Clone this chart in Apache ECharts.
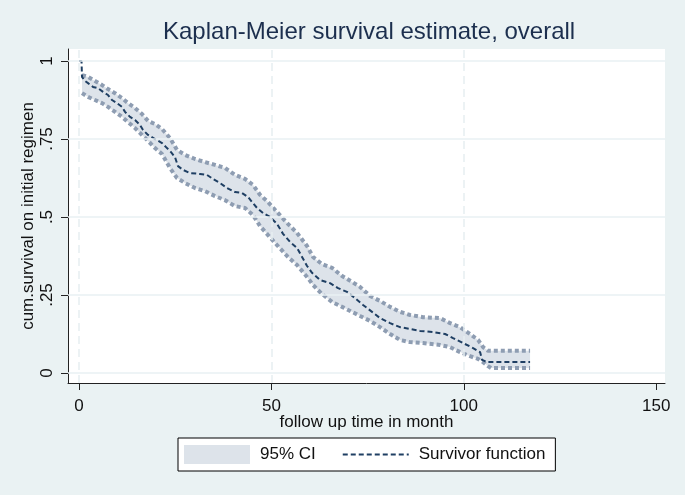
<!DOCTYPE html>
<html>
<head>
<meta charset="utf-8">
<script src="https://cdn.jsdelivr.net/npm/echarts@6/dist/echarts.min.js"></script>
<style>html,body{margin:0;padding:0;background:#eaf2f3;}#c{width:685px;height:495px;}</style>
</head>
<body>
<div id="c"></div>
<script>
// Kaplan-Meier survivor function (time in months, cumulative survival)
const times = [0, 0.65, 0.78, 1.56, 2.34, 3.64, 4.94, 6.24, 7.54, 8.58, 9.88, 11.18, 11.96, 13.26, 14.56, 15.86, 16.64, 17.94, 19.76, 21.58, 22.62, 23.91, 24.95, 25.73, 27.03, 28.85, 31.45, 33.27, 34.83, 36.65, 38.47, 40.55, 42.37, 43.93, 44.97, 46.27, 47.83, 49.65, 51.47, 53.03, 54.85, 56.67, 57.97, 59.27, 60.57, 62.65, 65.25, 67.33, 69.66, 71.74, 73.82, 76.16, 78.24, 80.84, 83.44, 86.04, 88.64, 92.02, 95.14, 97.22, 99.82, 102.42, 104.24, 104.76, 106.06, 117.23];
const survival = [1.000, 1.000, 0.949, 0.936, 0.929, 0.917, 0.913, 0.901, 0.891, 0.875, 0.865, 0.853, 0.837, 0.821, 0.811, 0.795, 0.779, 0.763, 0.750, 0.737, 0.724, 0.708, 0.692, 0.663, 0.651, 0.641, 0.638, 0.635, 0.622, 0.609, 0.593, 0.580, 0.577, 0.564, 0.548, 0.529, 0.513, 0.500, 0.478, 0.446, 0.420, 0.401, 0.372, 0.343, 0.321, 0.298, 0.288, 0.272, 0.260, 0.240, 0.218, 0.196, 0.176, 0.160, 0.147, 0.141, 0.135, 0.131, 0.125, 0.112, 0.096, 0.080, 0.067, 0.042, 0.035, 0.035];
// 95% confidence interval
const ciTimes = [0.78, 2.34, 4.16, 5.98, 7.54, 9.36, 11.18, 12.74, 14.56, 16.38, 17.94, 19.76, 21.58, 23.65, 25.47, 27.55, 30.15, 32.75, 35.35, 37.95, 40.55, 43.15, 45.23, 47.05, 49.13, 51.47, 54.07, 56.67, 59.27, 60.83, 63.17, 65.77, 68.37, 70.96, 73.04, 75.64, 78.24, 80.84, 83.44, 86.04, 89.42, 93.84, 96.44, 99.04, 101.64, 103.72, 105.02, 106.32, 107.1, 117.23];
const ciUpper = [0.955, 0.949, 0.936, 0.923, 0.910, 0.897, 0.881, 0.865, 0.849, 0.830, 0.808, 0.798, 0.782, 0.753, 0.715, 0.699, 0.686, 0.676, 0.667, 0.657, 0.635, 0.622, 0.603, 0.571, 0.548, 0.516, 0.481, 0.449, 0.407, 0.372, 0.349, 0.337, 0.311, 0.292, 0.276, 0.247, 0.231, 0.212, 0.196, 0.186, 0.179, 0.176, 0.160, 0.147, 0.125, 0.106, 0.083, 0.071, 0.071, 0.071];
const ciLower = [0.897, 0.885, 0.875, 0.865, 0.853, 0.837, 0.821, 0.804, 0.785, 0.763, 0.744, 0.721, 0.702, 0.657, 0.625, 0.609, 0.593, 0.583, 0.567, 0.554, 0.535, 0.529, 0.506, 0.471, 0.442, 0.410, 0.375, 0.346, 0.308, 0.282, 0.253, 0.228, 0.212, 0.196, 0.183, 0.167, 0.147, 0.125, 0.106, 0.099, 0.096, 0.090, 0.083, 0.067, 0.054, 0.045, 0.035, 0.022, 0.016, 0.016];
// Axis ticks
const xTicks = [0, 50, 100, 150];
const xGridLines = [0, 50, 100];
const yTicks = [0, 0.25, 0.5, 0.75, 1];
const yTickLabels = ['0', '.25', '.5', '.75', '1'];

const FONT = 'Liberation Sans';
const BAND = '#dde3ea';
const CI_LINE = '#8e9db2';
const SURV = '#1f3f63';

const pairs = (xs, ys) => xs.map((x, i) => [x, ys[i]]);

function renderBand(params, api) {
  if (params.dataIndexInside !== 0) return null;
  const pts = [];
  for (let i = 0; i < ciTimes.length; i++) pts.push(api.coord([ciTimes[i], ciUpper[i]]));
  for (let i = ciTimes.length - 1; i >= 0; i--) pts.push(api.coord([ciTimes[i], ciLower[i]]));
  return {type: 'polygon', shape: {points: pts}, style: {fill: BAND, stroke: null}, silent: true};
}

const chart = echarts.init(document.getElementById('c'), null, {renderer: 'canvas'});
chart.setOption({
  animation: false,
  backgroundColor: '#eaf2f3',
  title: {
    text: 'Kaplan-Meier survival estimate, overall',
    left: 163, top: 20, padding: 0,
    textStyle: {fontFamily: FONT, fontSize: 24, fontWeight: 'normal', color: '#1c2f4e'}
  },
  grid: {left: 68, top: 49, right: 20, bottom: 112, show: true, backgroundColor: '#ffffff', borderWidth: 0},
  legend: {
    left: 178, top: 438,
    padding: [7, 10, 7, 6],
    itemWidth: 66, itemHeight: 19, itemGap: 26,
    backgroundColor: '#ffffff', borderColor: '#000000', borderWidth: 1, borderRadius: 0,
    textStyle: {fontFamily: FONT, fontSize: 17, color: '#111111', padding: [0, 0, 0, 5]},
    selectedMode: false,
    data: [
      {name: '95% CI', icon: 'rect', itemStyle: {color: BAND, borderWidth: 0}},
      {name: 'Survivor function', itemStyle: {opacity: 0}, lineStyle: {color: SURV, width: 2, type: [5, 3]}}
    ]
  },
  xAxis: {
    type: 'value', min: -2.86, max: 152.3,
    name: 'follow up time in month', nameLocation: 'middle', nameGap: 31, nameMoveOverlap: false,
    nameTextStyle: {fontFamily: FONT, fontSize: 17, color: '#111111'},
    axisLine: {show: true, onZero: false, lineStyle: {color: '#222222', width: 1}},
    axisTick: {show: true, length: 7, customValues: xTicks, lineStyle: {color: '#222222'}},
    axisLabel: {customValues: xTicks, margin: 15, fontFamily: FONT, fontSize: 17, color: '#111111'},
    splitLine: {show: false}
  },
  yAxis: {
    type: 'value', min: -0.032, max: 1.0385,
    name: 'cum.survival on initial regimen', nameLocation: 'middle', nameGap: 31, nameMoveOverlap: false,
    nameTextStyle: {fontFamily: FONT, fontSize: 17, color: '#111111'},
    axisLine: {show: true, onZero: false, lineStyle: {color: '#222222', width: 1}},
    axisTick: {show: true, length: 7, customValues: yTicks, lineStyle: {color: '#222222'}},
    axisLabel: {
      customValues: yTicks, rotate: 90, margin: 12, fontFamily: FONT, fontSize: 17, color: '#111111',
      formatter: v => { const i = yTicks.findIndex(t => Math.abs(t - v) < 1e-6); return i >= 0 ? yTickLabels[i] : ''; }
    },
    splitLine: {show: false}
  },
  series: [
    {
      name: 'grid', type: 'line', data: [], z: 1, silent: true, showSymbol: false,
      markLine: {
        silent: true, symbol: 'none', label: {show: false}, animation: false,
        data: [
          ...xGridLines.map(v => ({xAxis: v, lineStyle: {color: '#e6eef1', width: 1.5, type: [8, 5]}})),
          ...yTicks.map(v => ({yAxis: v, lineStyle: {color: '#e9f1f3', width: 1.5, type: 'solid'}}))
        ]
      }
    },
    {
      name: '95% CI', type: 'custom', z: 2, silent: true,
      itemStyle: {color: BAND},
      renderItem: renderBand,
      data: ciTimes.map((t, i) => [t, ciLower[i], ciUpper[i]]),
      encode: {x: 0, y: [1, 2]}
    },
    {
      name: 'ciUpper', type: 'line', z: 3, silent: true, showSymbol: false, symbol: 'none',
      lineStyle: {color: CI_LINE, width: 4, type: [4, 3], cap: 'butt'}, data: pairs(ciTimes, ciUpper)
    },
    {
      name: 'ciLower', type: 'line', z: 3, silent: true, showSymbol: false, symbol: 'none',
      lineStyle: {color: CI_LINE, width: 4, type: [4, 3], cap: 'butt'}, data: pairs(ciTimes, ciLower)
    },
    {
      name: 'Survivor function', type: 'line', z: 4, silent: true, showSymbol: false, symbol: 'none',
      itemStyle: {color: SURV},
      lineStyle: {color: SURV, width: 2, type: [5, 3]}, data: pairs(times, survival)
    }
  ]
});
</script>
</body>
</html>
